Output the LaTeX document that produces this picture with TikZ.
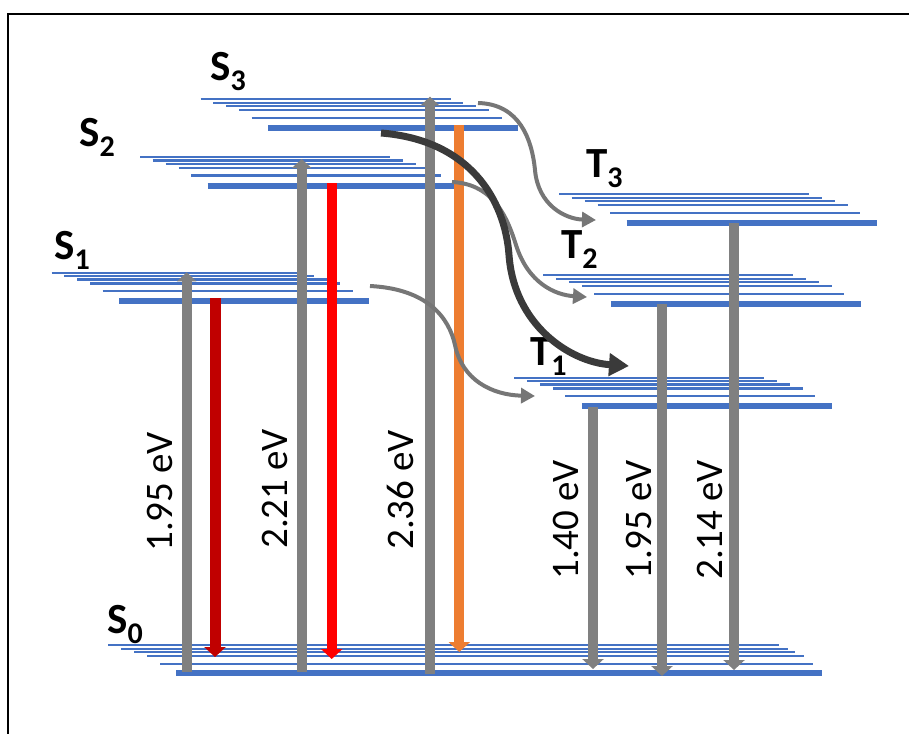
\documentclass[tikz,border=0pt]{standalone}
\usepackage{fontspec}
\setmainfont{Carlito}
\usetikzlibrary{arrows.meta}
\definecolor{lvl}{HTML}{4472C4}
\definecolor{gr}{HTML}{808080}
\definecolor{cgr}{HTML}{767676}
\definecolor{dred}{HTML}{C00000}
\definecolor{bred}{HTML}{FF0000}
\definecolor{orng}{HTML}{ED7D31}
\definecolor{dk}{HTML}{3A3A3A}
\newcommand\mylevels[3]{%
  \foreach \dx/\dy in {0/0,12.5/3.4,25.5/6.8,38.5/10.8,51/18.5}{
    \draw[thinlvl] (#2+\dx,#3+\dy) -- ++(250,0);}
  \draw[thicklvl] (#2+67.5,#3+28.5) coordinate (#1) -- ++(250,0);}
\newcommand\lvlabel[2]{{\fontsize{43}{43}\selectfont\bfseries #1}\raisebox{-10pt}{\fontsize{30}{30}\selectfont\bfseries #2}}
\begin{document}
\begin{tikzpicture}[x=1pt,y=-1pt,
  thinlvl/.style={draw=lvl,line width=2.2pt},
  thicklvl/.style={draw=lvl,line width=6pt},
  lab/.style={anchor=base west,inner sep=0pt},
  ev/.style={rotate=90,inner sep=0pt,font=\fontsize{39}{39}\selectfont},
  uparr/.style={draw=gr,line width=10pt,-{Triangle[length=9pt,width=19pt]}},
  downarr/.style={line width=10pt,-{Triangle[length=10pt,width=21pt]}},
  curvarr/.style={draw=cgr,line width=4pt,-{Triangle[length=14pt,width=15pt]}},
  bigcurv/.style={draw=dk,line width=7pt,-{Triangle[length=20pt,width=22pt]}}]
\useasboundingbox (0,0) rectangle (909,733);
\begin{scope}
\clip (0,0) rectangle (909,733);
\draw[line width=2.5pt] (8,760) -- (8,14) -- (930,14);
\end{scope}
% levels
\mylevels{S3}{200.7}{99.3}
\mylevels{S2}{140}{157}
\mylevels{S1}{51.7}{272.7}
\mylevels{T3}{559}{194.3}
\mylevels{T2}{543.3}{275.3}
\mylevels{T1}{514.3}{377.7}
\foreach \xa/\xb/\yy in {108/779/645,121/788/648.7,134/795/652.3,147/804/656,160/813/663.7}{
  \draw[thinlvl] (\xa,\yy) -- (\xb,\yy);}
\draw[thicklvl] (176,673.3) coordinate (S0) -- (822,673.3);
% labels
\node[lab] (lS3) at (210,81) {\lvlabel{S}{3}};
\node[lab] (lS2) at (79,146) {\lvlabel{S}{2}};
\node[lab] (lS1) at (54,259) {\lvlabel{S}{1}};
\node[lab] (lS0) at (107,633) {\lvlabel{S}{0}};
\node[lab] (lT3) at (586,177) {\lvlabel{T}{3}};
\node[lab] (lT2) at (561,258) {\lvlabel{T}{2}};
\node[lab] (lT1) at (530,365) {\lvlabel{T}{1}};
% vertical arrows
\draw[uparr] (186.7,672) -- (186.7,272.3);
\draw[uparr] (301.7,672) -- (301.7,159);
\draw[uparr] (430,674) -- (430,96.7);
\draw[downarr,draw=dred,line width=11pt] (215,298) -- (215,657);
\draw[downarr,draw=bred] (331.7,183) -- (331.7,659);
\draw[downarr,draw=orng] (459.3,125) -- (459.3,652);
\draw[downarr,draw=gr] (593,407) -- (593,669);
\draw[downarr,draw=gr] (662,304) -- (662,676);
\draw[downarr,draw=gr] (734,223) -- (734,670);
% energies
\node[ev] (e1) at (160,492) {1.95 eV};
\node[ev] (e2) at (275,489) {2.21 eV};
\node[ev] (e3) at (400,490) {2.36 eV};
\node[ev] (e4) at (566,520) {1.40 eV};
\node[ev] (e5) at (639,520) {1.95 eV};
\node[ev] (e6) at (710,520) {2.14 eV};
% curved arrows
\draw[curvarr] (478,103) .. controls (520,104) and (532,140) .. (535,170) .. controls (538,205) and (565,219) .. (596,220);
\draw[curvarr] (452,182) .. controls (495,184) and (508,220) .. (516,245) .. controls (528,283) and (555,295) .. (587,297);
\draw[curvarr] (370,286) .. controls (428,289) and (449,318) .. (455,345) .. controls (462,380) and (492,395) .. (535,396);
\draw[bigcurv] (381,133) .. controls (470,140) and (505,200) .. (509,255) .. controls (514,325) and (570,362) .. (629,366);
\end{tikzpicture}
\end{document}
